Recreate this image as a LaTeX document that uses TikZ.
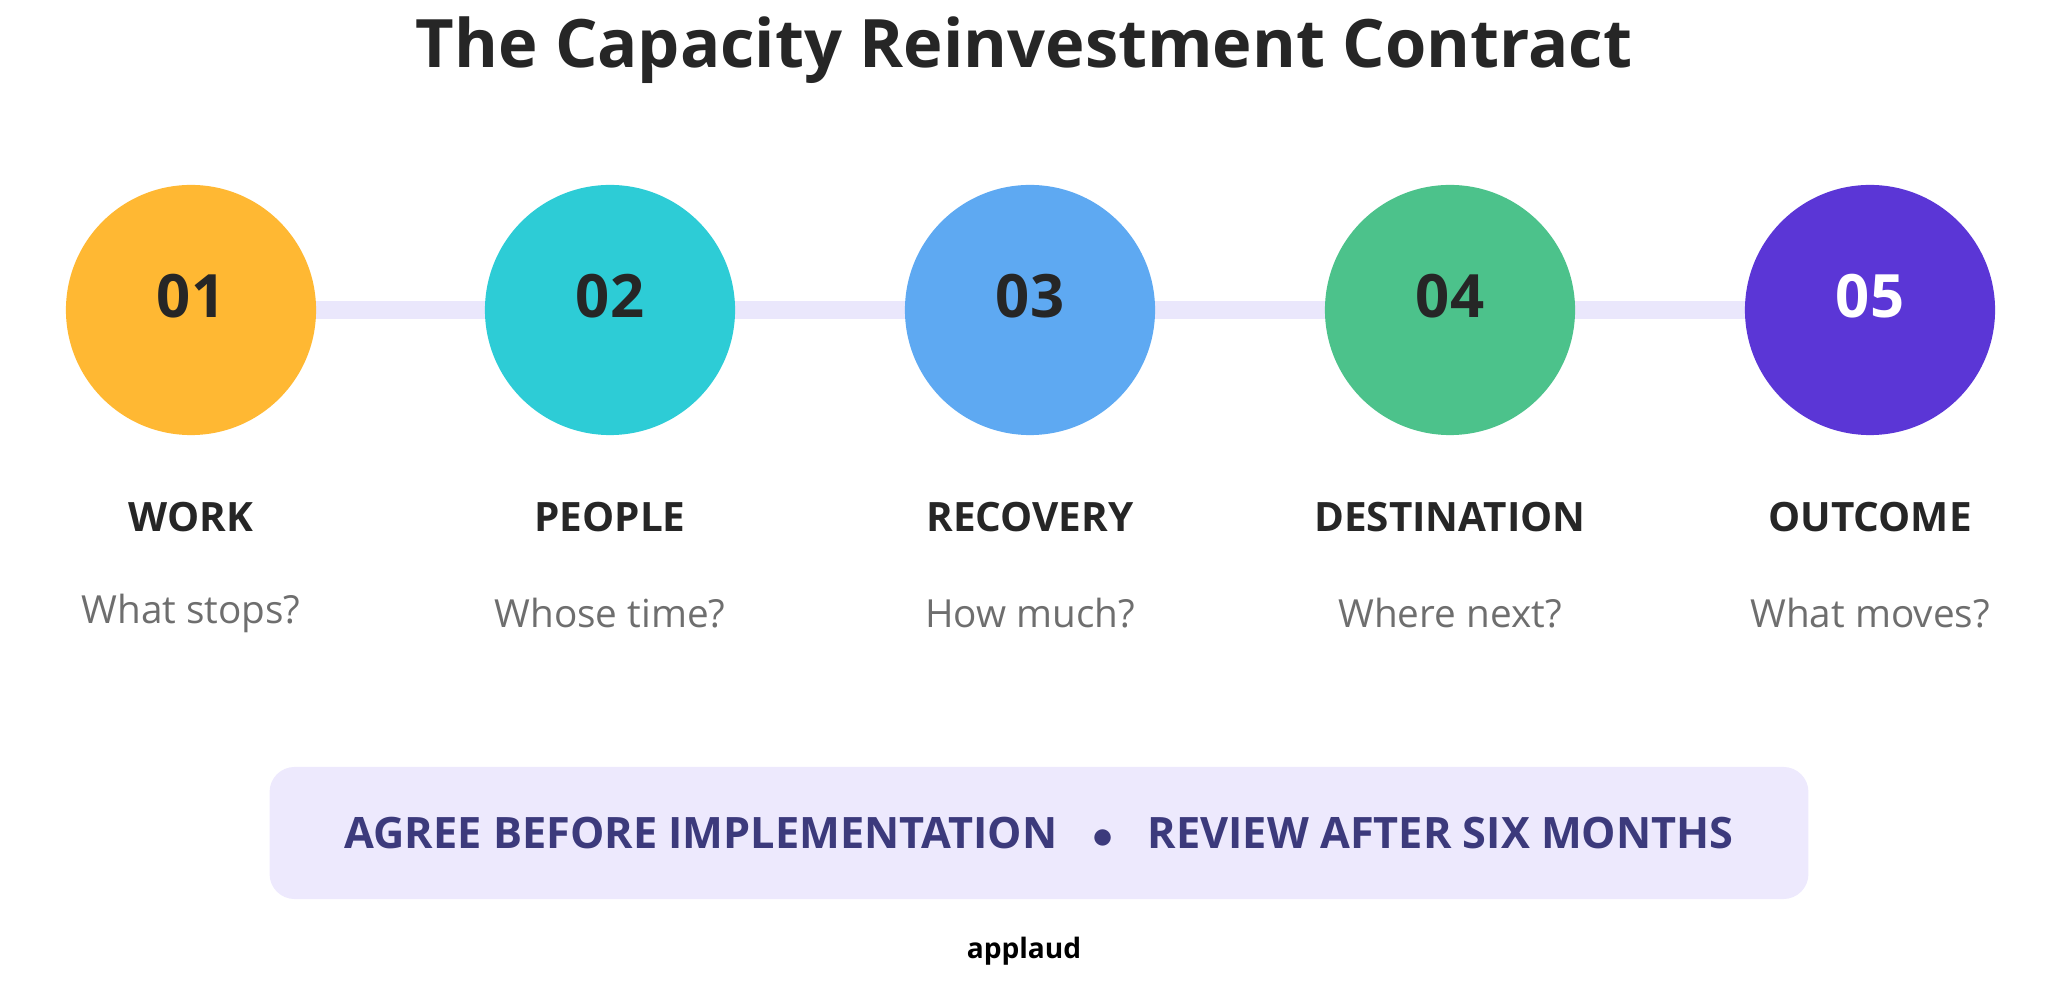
\documentclass[tikz,border=0pt]{standalone}
\usepackage{fontspec}
\setmainfont{Open Sans}
\usetikzlibrary{positioning}
\definecolor{cWork}{HTML}{FFB833}
\definecolor{cPeople}{HTML}{2DCCD6}
\definecolor{cRecovery}{HTML}{5EA9F2}
\definecolor{cDest}{HTML}{4CC28B}
\definecolor{cOutcome}{HTML}{5B36D6}
\definecolor{cTrack}{HTML}{EAE7FC}
\definecolor{cBox}{HTML}{EDE9FD}
\definecolor{cBoxText}{HTML}{3C3A7C}
\definecolor{cDark}{HTML}{262626}
\definecolor{cGrey}{HTML}{6E6E6E}
\begin{document}
\begin{tikzpicture}
      [
        x=0.01cm, y=-0.01cm,
        StepCircle/.style={circle, minimum size=2.5cm, inner sep=0pt, fill=#1},
        StepNumber/.style={font=\fontsize{17}{20}\selectfont\bfseries},
        StepLabel/.style={font=\fontsize{11.5}{14}\selectfont\bfseries, text=cDark},
        StepQuestion/.style={font=\fontsize{11}{13}\selectfont, text=cGrey},
      ]
      \useasboundingbox (0,0) rectangle (2048,1001);

      \node [font=\fontsize{19}{23}\selectfont\bfseries, text=cDark] (title) at (1024,50) {The Capacity Reinvestment Contract};

      \draw [cTrack, line width=0.18cm] (191,310) -- (1870,310);

      \foreach \i/\x/\col/\txt/\lab/\q in {
          1/191/cWork/cDark/WORK/What stops?,
          2/610/cPeople/cDark/PEOPLE/Whose time?,
          3/1030/cRecovery/cDark/RECOVERY/How much?,
          4/1450/cDest/cDark/DESTINATION/Where next?,
          5/1870/cOutcome/white/OUTCOME/What moves?}
      {
        \node [StepCircle=\col] (step\i) at (\x,310) {};
        \node [StepNumber, text=\txt] (num\i) at (\x,296) {0\i};
        \node [StepLabel] (label\i) at (\x,517) {\lab};
        \node [StepQuestion] (question\i) at (\x,613) {\q};
      }

      \node [fill=cBox, rounded corners=0.25cm, minimum width=15.38cm, minimum height=1.32cm,
             font=\fontsize{12.3}{15}\selectfont\bfseries, text=cBoxText] (note) at (1039,833)
            {AGREE BEFORE IMPLEMENTATION\hspace{0.8em}$\bullet$\hspace{0.8em}REVIEW AFTER SIX MONTHS};

      \node [font=\fontsize{8}{10}\selectfont\bfseries, text=black] (brand) at (1024,951) {applaud};
    \end{tikzpicture}
\end{document}
